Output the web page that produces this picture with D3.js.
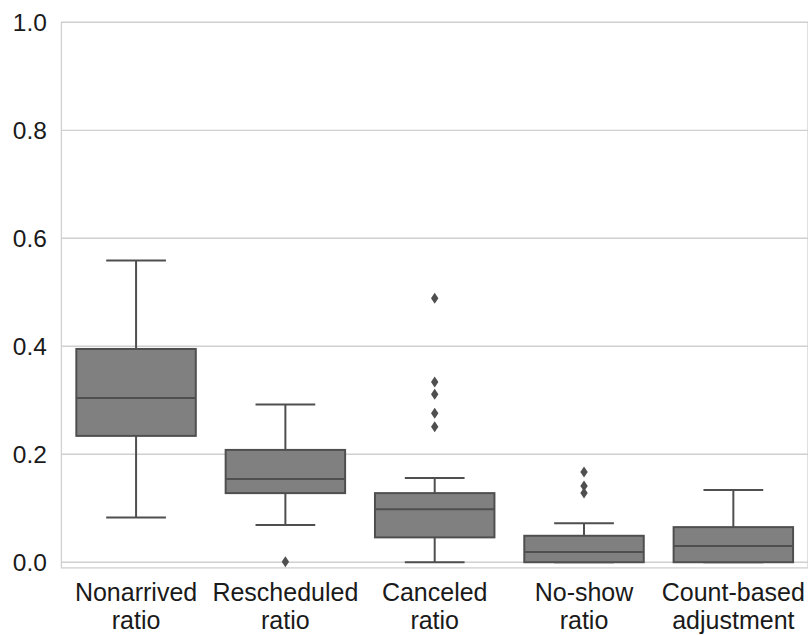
<!DOCTYPE html>
<html><head><meta charset="utf-8">
<script src="https://cdn.jsdelivr.net/npm/d3@7"></script>
<style>body{margin:0;background:#fff}svg{display:block}</style>
</head><body>
<svg id="chart" width="808" height="635"></svg>
<script>
const categories = ["Nonarrived\nratio","Rescheduled\nratio","Canceled\nratio","No-show\nratio","Count-based\nadjustment"];
const whiskerLow  = [0.083, 0.069, 0.000, 0.000, 0.000];
const q1          = [0.234, 0.128, 0.046, 0.000, 0.000];
const median      = [0.304, 0.154, 0.098, 0.019, 0.030];
const q3          = [0.395, 0.208, 0.128, 0.049, 0.065];
const whiskerHigh = [0.559, 0.292, 0.156, 0.072, 0.134];
const outliers    = [[], [0.001], [0.489, 0.334, 0.311, 0.276, 0.251], [0.167, 0.141, 0.128], []];
const yTicks = [0.0, 0.2, 0.4, 0.6, 0.8, 1.0];

(function() {
const svg = d3.select("#chart");
const mLeft = 61.4, mRight = 808, mTop = 22.3, mBottom = 567.9;
const x = d3.scaleBand().domain(d3.range(categories.length)).range([mLeft, mRight]).paddingInner(0).paddingOuter(0);
const y = d3.scaleLinear().domain([-0.0105, 1.0]).range([mBottom, mTop]);
const lineCol = "#4f4f4f", fillCol = "#808080", gridCol = "#d0d0d0";
const font = "'Liberation Sans', Arial, sans-serif";

svg.append("g").selectAll("line").data(yTicks).join("line")
  .attr("x1", mLeft).attr("x2", mRight)
  .attr("y1", d => y(d)).attr("y2", d => y(d))
  .attr("stroke", gridCol).attr("stroke-width", 1.3);

svg.append("rect").attr("x", mLeft).attr("y", mTop).attr("width", mRight - mLeft).attr("height", mBottom - mTop)
  .attr("fill", "none").attr("stroke", gridCol).attr("stroke-width", 1.3);

svg.append("g").selectAll("text").data(yTicks).join("text")
  .attr("x", mLeft - 14.5).attr("y", d => y(d)).attr("dy", "0.36em")
  .attr("text-anchor", "end").attr("font-family", font).attr("font-size", 24.5).attr("fill", "#1a1a1a")
  .text(d => d.toFixed(1));

const xl = svg.append("g").selectAll("text").data(categories).join("text")
  .attr("text-anchor", "middle").attr("font-family", font).attr("font-size", 25).attr("fill", "#1a1a1a")
  .attr("x", (d, i) => x(i) + x.bandwidth() / 2).attr("y", 601);
xl.each(function(d, i) {
  const t = d3.select(this);
  d.split("\n").forEach((s, k) => {
    t.append("tspan").attr("x", x(i) + x.bandwidth() / 2).attr("y", 601 + k * 27.8).text(s);
  });
});

const bw = x.bandwidth() * 0.8;
const g = svg.append("g");
categories.forEach((c, i) => {
  const cx = x(i) + x.bandwidth() / 2;
  g.append("line").attr("x1", cx).attr("x2", cx).attr("y1", y(q3[i])).attr("y2", y(whiskerHigh[i]))
    .attr("stroke", lineCol).attr("stroke-width", 2);
  g.append("line").attr("x1", cx).attr("x2", cx).attr("y1", y(q1[i])).attr("y2", y(whiskerLow[i]))
    .attr("stroke", lineCol).attr("stroke-width", 2);
  g.append("line").attr("x1", cx - bw / 4).attr("x2", cx + bw / 4).attr("y1", y(whiskerHigh[i])).attr("y2", y(whiskerHigh[i]))
    .attr("stroke", lineCol).attr("stroke-width", 2);
  g.append("line").attr("x1", cx - bw / 4).attr("x2", cx + bw / 4).attr("y1", y(whiskerLow[i])).attr("y2", y(whiskerLow[i]))
    .attr("stroke", lineCol).attr("stroke-width", 2);
  g.append("rect").attr("x", cx - bw / 2).attr("width", bw)
    .attr("y", y(q3[i])).attr("height", y(q1[i]) - y(q3[i]))
    .attr("fill", fillCol).attr("stroke", lineCol).attr("stroke-width", 2);
  g.append("line").attr("x1", cx - bw / 2).attr("x2", cx + bw / 2).attr("y1", y(median[i])).attr("y2", y(median[i]))
    .attr("stroke", lineCol).attr("stroke-width", 2);
  outliers[i].forEach(v => {
    const py = y(v);
    g.append("path").attr("d", `M${cx},${py - 5.5}L${cx + 3.7},${py}L${cx},${py + 5.5}L${cx - 3.7},${py}Z`)
      .attr("fill", lineCol);
  });
});
})();
</script>
</body></html>
